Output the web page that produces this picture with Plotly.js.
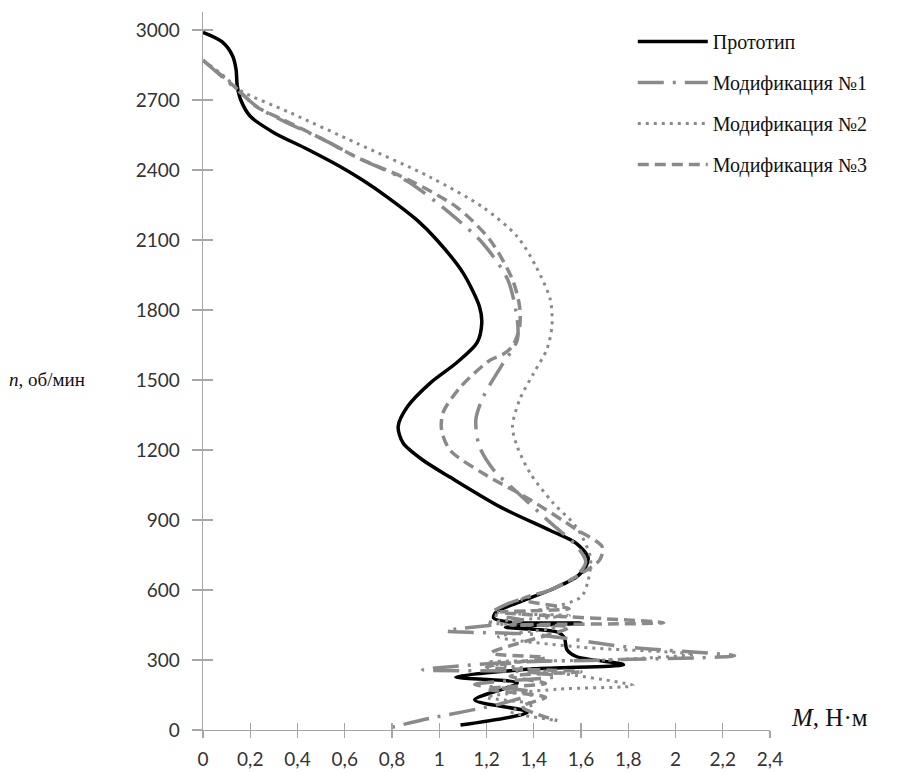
<!DOCTYPE html>
<html>
<head>
<meta charset="utf-8">
<script src="https://cdn.plot.ly/plotly-3.0.1.min.js"></script>
<style>html,body{margin:0;padding:0;background:#fff;}#chart{width:909px;height:773px;}</style>
</head>
<body>
<div id="chart"></div>
<script>
// Series names
const seriesNames = ["Прототип", "Модификация №1", "Модификация №2", "Модификация №3"];

// Prototype: torque M (N·m) and speed n (rpm)
const protoM = [0.00,0.08,0.125,0.14,0.145,0.16,0.20,0.30,0.44,0.58,0.675,0.78,0.905,0.99,1.10,1.17,1.18,1.16,1.075,0.965,0.865,0.826,0.847,0.93,1.045,1.26,1.47,1.58,1.63,1.62,1.58,1.47,1.33,1.24,1.23,1.30,1.60,1.40,1.28,1.50,1.53,1.54,1.58,1.78,1.40,1.07,1.33,1.15,1.375,1.09];
const protoN = [2990,2950,2890,2830,2760,2700,2630,2560,2490,2415,2357,2284,2186,2100,1960,1815,1745,1660,1575,1490,1385,1300,1230,1157,1084,955,855,800,740,700,655,600,545,505,480,462,458,448,440,420,395,345,315,280,262,227,201,129,77,21];

// Modification 1
const mod1M = [0.00,0.08,0.16,0.23,0.34,0.51,0.65,0.86,1.045,1.185,1.29,1.33,1.33,1.26,1.185,1.155,1.17,1.23,1.35,1.48,1.58,1.62,1.58,1.47,1.30,1.22,1.35,1.03,1.40,1.80,2.25,1.70,1.30,0.93,1.35,1.50,1.15,1.40,1.25,0.96,0.80];
const mod1N = [2870,2800,2730,2670,2610,2530,2455,2355,2215,2085,1930,1760,1670,1555,1425,1330,1215,1115,1000,880,790,720,660,600,545,500,470,425,410,355,318,300,290,258,250,230,195,160,110,50,12];

// Modification 2
const mod2M = [0.00,0.08,0.16,0.37,0.65,0.96,1.185,1.33,1.41,1.47,1.477,1.455,1.40,1.34,1.31,1.33,1.385,1.48,1.58,1.64,1.63,1.60,1.45,1.30,1.55,1.20,1.50,1.25,1.60,2.08,1.70,1.20,1.40,1.82,1.50,1.20,1.40,1.30,1.50];
const mod2N = [2870,2810,2740,2645,2515,2370,2240,2115,1985,1845,1730,1630,1530,1415,1300,1215,1100,975,870,740,640,570,520,500,490,460,440,400,355,325,300,290,260,190,175,140,110,80,40];

// Modification 3
const mod3M = [0.00,0.085,0.157,0.228,0.34,0.51,0.65,0.876,1.075,1.215,1.31,1.34,1.34,1.31,1.27,1.215,1.09,1.016,1.01,1.045,1.185,1.38,1.58,1.69,1.68,1.60,1.47,1.35,1.55,1.25,1.95,1.30,1.55,1.22,1.45,1.20,1.60,1.30,1.45,1.20,1.45,1.35,1.50];
const mod3N = [2870,2800,2735,2670,2615,2530,2455,2355,2240,2100,1930,1815,1725,1645,1610,1585,1470,1360,1285,1200,1100,990,860,785,730,670,600,560,520,505,460,450,440,330,310,270,250,230,200,175,140,100,40];

// Axis ticks
const xTicks = [0,0.2,0.4,0.6,0.8,1,1.2,1.4,1.6,1.8,2,2.2,2.4];
const yTicks = [0,300,600,900,1200,1500,1800,2100,2400,2700,3000];

const gray = '#8a8a8a';
const traces = [
  {x: protoM, y: protoN, name: seriesNames[0], legendgroup: 'a', mode: 'lines',
   line: {color: '#000000', width: 3.5, shape: 'spline', smoothing: 0.8}},
  {x: mod1M, y: mod1N, name: seriesNames[1], legendgroup: 'b', mode: 'lines',
   line: {color: gray, width: 3.5, dash: '26px,9px,3px,9px', shape: 'spline', smoothing: 0.8}},
  {x: mod2M, y: mod2N, name: seriesNames[2], legendgroup: 'c', mode: 'lines',
   line: {color: gray, width: 3, dash: '3px,5px', shape: 'spline', smoothing: 0.8}},
  {x: mod3M, y: mod3N, name: seriesNames[3], legendgroup: 'd', mode: 'lines',
   line: {color: gray, width: 3.5, dash: '11px,6px', shape: 'spline', smoothing: 0.8}}
];

const axisColor = '#a6a6a6';
const tickFont = {family: 'Lato, "Open Sans", sans-serif', size: 19, color: '#333333'};
const layout = {
  width: 909, height: 773,
  margin: {l: 203, r: 139, t: 12, b: 43},
  paper_bgcolor: '#ffffff', plot_bgcolor: '#ffffff',
  separators: ', ',
  showlegend: true,
  legend: {x: 0.758, y: 0.986, xanchor: 'left', yanchor: 'top',
           font: {family: '"Liberation Serif", "Times New Roman", serif', size: 20, color: '#111'},
           bgcolor: 'rgba(0,0,0,0)', tracegroupgap: 12, itemwidth: 70},
  xaxis: {range: [0, 2.4], tickvals: xTicks, ticks: 'outside', ticklen: 7, tickcolor: axisColor,
          tickwidth: 1.3, showline: true, linecolor: axisColor, linewidth: 1.3, showgrid: false,
          zeroline: false, tickfont: tickFont, ticklabelstandoff: 5, fixedrange: true},
  yaxis: {range: [0, 3077], tickvals: yTicks, ticks: 'outside', ticklen: 10, tickcolor: axisColor,
          tickwidth: 1.3, showline: true, linecolor: axisColor, linewidth: 1.3, showgrid: false,
          zeroline: false, tickfont: tickFont, ticklabelstandoff: 8, fixedrange: true},
  xaxis2: {range: [0, 2.4], tickvals: xTicks, ticks: 'inside', ticklen: 7, tickcolor: axisColor,
           tickwidth: 1.3, showticklabels: false, showgrid: false, zeroline: false, showline: false,
           overlaying: 'x', anchor: 'y'},
  yaxis2: {range: [0, 3077], tickvals: yTicks, ticks: 'inside', ticklen: 10, tickcolor: axisColor,
           tickwidth: 1.3, showticklabels: false, showgrid: false, zeroline: false, showline: false,
           overlaying: 'y', anchor: 'x'},
  annotations: [
    {xref: 'paper', yref: 'paper', x: -0.345, y: 0.4875, xanchor: 'left', yanchor: 'middle',
     showarrow: false, text: '<i>n</i>, об/мин',
     font: {family: '"Liberation Serif", "Times New Roman", serif', size: 19, color: '#111'}},
    {xref: 'paper', yref: 'paper', x: 1.033, y: 0.017, xanchor: 'left', yanchor: 'middle',
     showarrow: false, text: '<i>M</i>, Н·м',
     font: {family: '"Liberation Serif", "Times New Roman", serif', size: 25, color: '#111'}}
  ]
};

// Invisible trace activating the overlay axes that give the crossing tick marks
traces.push({x: [0], y: [0], xaxis: 'x2', yaxis: 'y2', mode: 'markers', marker: {opacity: 0}, showlegend: false, hoverinfo: 'skip'});

Plotly.newPlot('chart', traces, layout, {staticPlot: true, displayModeBar: false});
</script>
</body>
</html>
